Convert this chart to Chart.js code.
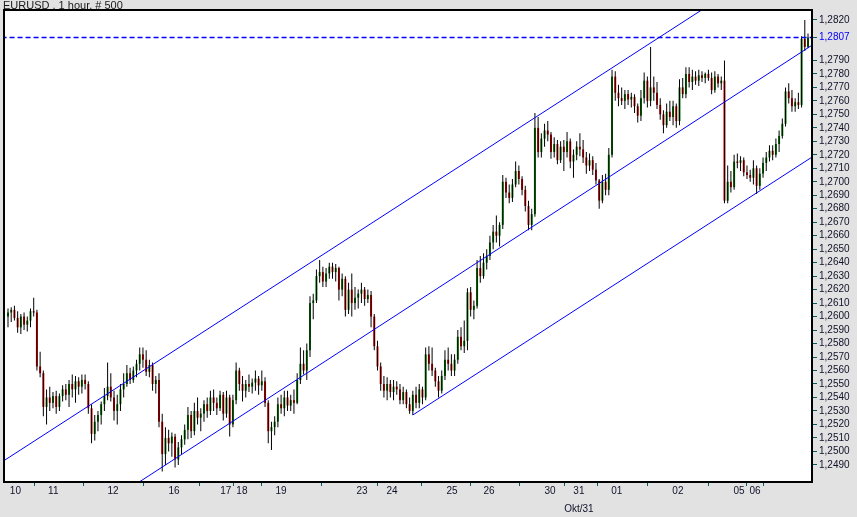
<!DOCTYPE html>
<html>
<head>
<meta charset="utf-8">
<script src="https://cdn.jsdelivr.net/npm/chart.js@4"></script>
<style>
  html, body { margin: 0; padding: 0; background: #e2e2e2; }
  #wrap { width: 857px; height: 517px; position: relative; }
</style>
</head>
<body>
<div id="wrap"><canvas id="fxChart"></canvas></div>
<script>
// EURUSD hourly candles, [open, high, low, close] in pips (2600 -> 1,2600)
const ohlc = [
  [2600,2606,2592,2603],[2603,2607,2596,2605],[2605,2608,2597,2599],[2599,2604,2588,2592],[2592,2602,2587,2600],
  [2600,2603,2590,2594],[2594,2600,2589,2597],[2597,2606,2592,2604],[2604,2614,2600,2603],[2603,2605,2560,2563],
  [2563,2574,2555,2558],[2558,2560,2526,2533],[2533,2546,2520,2540],[2540,2548,2530,2536],[2536,2544,2532,2541],
  [2541,2545,2528,2533],[2533,2543,2530,2541],[2541,2549,2537,2546],[2546,2550,2538,2542],[2542,2553,2533,2550],
  [2550,2557,2540,2546],[2546,2556,2536,2552],[2552,2555,2542,2548],[2548,2557,2543,2553],[2553,2557,2546,2550],
  [2550,2552,2528,2532],[2532,2535,2506,2513],[2513,2527,2508,2522],[2522,2530,2515,2527],[2527,2537,2520,2535],
  [2535,2547,2530,2541],[2541,2566,2538,2548],[2548,2558,2537,2540],[2540,2545,2523,2530],[2530,2542,2520,2535],
  [2535,2550,2530,2546],[2546,2558,2540,2550],[2550,2564,2548,2558],[2558,2562,2550,2553],[2553,2563,2551,2560],
  [2560,2568,2555,2565],[2565,2577,2560,2572],[2572,2577,2562,2568],[2568,2575,2556,2559],[2559,2568,2555,2564],
  [2564,2566,2545,2550],[2550,2556,2543,2553],[2553,2558,2518,2522],[2522,2528,2485,2498],[2498,2518,2490,2510],
  [2510,2516,2500,2506],[2506,2514,2496,2511],[2511,2513,2488,2494],[2494,2507,2490,2503],[2503,2512,2498,2509],
  [2509,2520,2505,2516],[2516,2533,2509,2527],[2527,2530,2510,2515],[2515,2536,2512,2530],[2530,2540,2520,2525],
  [2525,2532,2515,2528],[2528,2538,2522,2535],[2535,2540,2525,2530],[2530,2545,2527,2540],[2540,2546,2530,2536],
  [2536,2540,2527,2532],[2532,2545,2530,2542],[2542,2544,2523,2528],[2528,2545,2525,2540],[2540,2542,2511,2520],
  [2520,2542,2518,2538],[2538,2566,2535,2560],[2560,2562,2545,2550],[2550,2556,2537,2545],[2545,2553,2540,2550],
  [2550,2557,2544,2548],[2548,2554,2543,2551],[2551,2560,2545,2554],[2554,2556,2542,2549],[2549,2560,2545,2552],
  [2552,2555,2533,2536],[2536,2538,2506,2515],[2515,2522,2501,2518],[2518,2526,2512,2522],[2522,2540,2518,2535],
  [2535,2542,2528,2532],[2532,2545,2526,2540],[2540,2545,2530,2534],[2534,2542,2530,2538],[2538,2546,2528,2536],
  [2536,2558,2535,2553],[2553,2577,2550,2565],[2565,2575,2557,2560],[2560,2580,2553,2575],[2575,2615,2570,2610],
  [2610,2617,2598,2612],[2612,2635,2610,2630],[2630,2642,2625,2633],[2633,2637,2622,2626],[2626,2636,2622,2632],
  [2632,2640,2628,2637],[2637,2640,2628,2633],[2633,2639,2626,2636],[2636,2637,2612,2620],[2620,2632,2615,2628],
  [2628,2630,2600,2605],[2605,2625,2602,2620],[2620,2632,2600,2610],[2610,2622,2605,2614],[2614,2620,2606,2617],
  [2617,2625,2610,2620],[2620,2622,2608,2613],[2613,2620,2610,2616],[2616,2619,2592,2600],[2600,2602,2575,2578],
  [2578,2582,2560,2563],[2563,2566,2545,2550],[2550,2556,2540,2545],[2545,2555,2538,2550],[2550,2553,2540,2544],
  [2544,2553,2538,2548],[2548,2552,2542,2546],[2546,2550,2535,2538],[2538,2548,2535,2544],[2544,2546,2532,2535],
  [2535,2540,2528,2530],[2530,2545,2527,2542],[2542,2548,2532,2536],[2536,2550,2532,2546],[2546,2548,2535,2540],
  [2540,2577,2538,2572],[2572,2578,2560,2565],[2565,2577,2556,2560],[2560,2562,2548,2552],[2552,2556,2540,2545],
  [2545,2560,2543,2556],[2556,2575,2553,2568],[2568,2577,2560,2565],[2565,2572,2556,2560],[2560,2572,2556,2568],
  [2568,2590,2565,2585],[2585,2592,2575,2578],[2578,2597,2573,2582],[2582,2621,2575,2618],[2618,2622,2600,2605],
  [2605,2612,2598,2608],[2608,2642,2606,2636],[2636,2645,2625,2630],[2630,2647,2628,2640],[2640,2650,2635,2645],
  [2645,2660,2642,2655],[2655,2668,2650,2663],[2663,2675,2655,2660],[2660,2670,2652,2668],[2668,2705,2665,2700],
  [2700,2703,2688,2692],[2692,2698,2684,2688],[2688,2702,2685,2698],[2698,2715,2696,2708],[2708,2712,2698,2702],
  [2702,2704,2690,2694],[2694,2697,2678,2682],[2682,2686,2664,2668],[2668,2680,2664,2676],[2676,2751,2674,2740],
  [2740,2748,2718,2722],[2722,2736,2718,2732],[2732,2743,2726,2738],[2738,2745,2730,2735],[2735,2737,2717,2722],
  [2722,2733,2718,2728],[2728,2731,2713,2716],[2716,2730,2714,2726],[2726,2731,2708,2722],[2722,2737,2718,2730],
  [2730,2732,2710,2715],[2715,2724,2703,2720],[2720,2730,2716,2726],[2726,2736,2719,2724],[2724,2731,2714,2718],
  [2718,2722,2706,2712],[2712,2721,2708,2716],[2716,2719,2705,2709],[2709,2714,2698,2701],[2701,2702,2680,2686],
  [2686,2705,2684,2700],[2700,2706,2690,2694],[2694,2725,2690,2720],[2720,2783,2718,2778],[2778,2782,2760,2766],
  [2766,2772,2756,2762],[2762,2770,2757,2760],[2760,2768,2754,2765],[2765,2768,2757,2761],[2761,2766,2755,2763],
  [2763,2765,2751,2756],[2756,2758,2744,2749],[2749,2768,2745,2762],[2762,2781,2758,2775],[2775,2778,2755,2760],
  [2760,2800,2756,2770],[2770,2778,2760,2766],[2766,2774,2754,2757],[2757,2762,2746,2750],[2750,2753,2736,2742],
  [2742,2758,2740,2752],[2752,2760,2745,2748],[2748,2760,2742,2756],[2756,2758,2740,2745],[2745,2776,2742,2770],
  [2770,2777,2762,2765],[2765,2785,2762,2780],[2780,2785,2770,2774],[2774,2783,2768,2778],[2778,2782,2772,2775],
  [2775,2783,2771,2779],[2779,2782,2774,2777],[2777,2781,2773,2780],[2780,2783,2775,2777],[2777,2781,2765,2768],
  [2768,2782,2766,2778],[2778,2780,2770,2773],[2773,2778,2768,2775],[2775,2790,2684,2686],[2686,2712,2684,2700],
  [2700,2708,2692,2696],[2696,2720,2694,2715],[2715,2721,2710,2714],[2714,2719,2708,2716],[2716,2718,2704,2707],
  [2707,2712,2702,2705],[2705,2709,2700,2703],[2703,2716,2698,2710],[2710,2712,2691,2697],[2697,2710,2694,2706],
  [2706,2718,2703,2714],[2714,2722,2708,2718],[2718,2727,2715,2723],[2723,2727,2716,2720],[2720,2732,2718,2728],
  [2728,2738,2722,2734],[2734,2747,2732,2743],[2743,2770,2741,2767],[2767,2773,2758,2762],[2762,2768,2752,2756],
  [2756,2762,2752,2759],[2759,2766,2754,2757],[2757,2808,2755,2806],[2806,2820,2797,2800],[2800,2810,2799,2807]
];

// day labels on the time axis and the bar they sit under
const dayLabels = ['10','11','12','16','17','18','19','23','24','25','26','30',['31','Okt/31'],'01','02','05','06'];
const dayPos = [2.3,14.1,32.7,51.7,67.8,72.8,85.0,110.2,119.5,138.2,149.7,168.7,177.7,189.5,208.5,227.5,232.5];

// price axis labels
const priceTicks = [1.2490,1.2500,1.2510,1.2520,1.2530,1.2540,1.2550,1.2560,1.2570,1.2580,1.2590,
  1.2600,1.2610,1.2620,1.2630,1.2640,1.2650,1.2660,1.2670,1.2680,1.2690,1.2700,1.2710,1.2720,
  1.2730,1.2740,1.2750,1.2760,1.2770,1.2780,1.2790,1.2807,1.2820];

// trend channel, [bar, pips] at each end
const upperChannel = [[-2, 2492], [252, 2883]];
const middleChannel = [[40, 2476], [252, 2804]];
const lowerChannel = [[126, 2527], [252, 2721]];

const toPrice = p => 1 + p / 10000;
const wicks = ohlc.map((b, i) => ({ x: i, y: [toPrice(b[2]), toPrice(b[1])] }));
const bodies = ohlc.map((b, i) => ({ x: i, y: [toPrice(b[0]), toPrice(b[3])] }));
const bodyColors = ohlc.map(b => b[3] >= b[0] ? '#008000' : '#e00000');
const lineOf = pts => pts.map(p => ({ x: p[0], y: toPrice(p[1]) }));
const lastClose = toPrice(ohlc[ohlc.length - 1][3]);

const axisFont = { family: '"Liberation Sans", Arial, sans-serif', size: 10 };

// white plot area, frame and caption
const framePlugin = {
  id: 'frame',
  beforeDraw(chart) {
    const a = chart.chartArea, ctx = chart.ctx;
    ctx.save();
    ctx.fillStyle = '#ffffff';
    ctx.fillRect(a.left, a.top, a.right - a.left, a.bottom - a.top);
    ctx.restore();
  },
  afterDraw(chart) {
    const a = chart.chartArea, ctx = chart.ctx;
    ctx.save();
    ctx.strokeStyle = '#000000';
    ctx.lineWidth = 2;
    ctx.strokeRect(a.left, a.top, a.right - a.left, a.bottom - a.top);
    ctx.fillStyle = '#1a1a1a';
    ctx.font = '11px "Liberation Sans", Arial, sans-serif';
    ctx.textBaseline = 'alphabetic';
    ctx.fillText('EURUSD , 1 hour, # 500', 3, 9);
    ctx.restore();
  }
};

new Chart(document.getElementById('fxChart'), {
  type: 'bar',
  data: {
    datasets: [
      { type: 'line', data: lineOf(upperChannel), borderColor: '#0000ff', borderWidth: 1, pointRadius: 0, clip: 0, order: 0 },
      { type: 'line', data: lineOf(middleChannel), borderColor: '#0000ff', borderWidth: 1, pointRadius: 0, clip: 0, order: 0 },
      { type: 'line', data: lineOf(lowerChannel), borderColor: '#0000ff', borderWidth: 1, pointRadius: 0, clip: 0, order: 0 },
      { type: 'line', data: [{ x: -2, y: lastClose }, { x: 252, y: lastClose }], borderColor: '#0000ff',
        borderWidth: 1.3, borderDash: [5, 3], pointRadius: 0, clip: 0, order: 0 },
      { data: bodies, backgroundColor: bodyColors, barThickness: 2, minBarLength: 1, grouped: false,
        inflateAmount: 0, clip: 0, order: 2 },
      { data: wicks, backgroundColor: '#000000', barThickness: 1, grouped: false, inflateAmount: 0, clip: 0, order: 1 }
    ]
  },
  options: {
    responsive: true,
    maintainAspectRatio: false,
    animation: false,
    layout: { padding: { left: 4, top: 10, right: 0, bottom: 0 } },
    plugins: { legend: { display: false }, tooltip: { enabled: false } },
    scales: {
      x: {
        type: 'linear', min: -1.245, max: 250.24, offset: false,
        grid: { drawOnChartArea: false, tickLength: 4, tickColor: '#006060' },
        border: { display: false },
        afterBuildTicks: s => { s.ticks = dayPos.map(v => ({ value: v })); },
        afterFit: s => { s.height = 35; },
        ticks: {
          autoSkip: false, maxRotation: 0, padding: -4, color: '#10102a',
          font: Object.assign({ lineHeight: 1.8 }, axisFont),
          callback: (v, i) => dayLabels[i]
        }
      },
      y: {
        position: 'right', min: 1.24773, max: 1.28274,
        grid: { drawOnChartArea: false, tickLength: 5, tickColor: '#006060' },
        border: { display: false },
        afterBuildTicks: s => { s.ticks = priceTicks.map(v => ({ value: v })); },
        afterFit: s => { s.width = 45; },
        ticks: {
          autoSkip: false, padding: 2, font: axisFont,
          color: c => Math.abs(c.tick.value - lastClose) < 1e-6 ? '#0000ff' : '#10102a',
          callback: v => v.toFixed(4).replace('.', ',')
        }
      }
    }
  },
  plugins: [framePlugin]
});
</script>
</body>
</html>
